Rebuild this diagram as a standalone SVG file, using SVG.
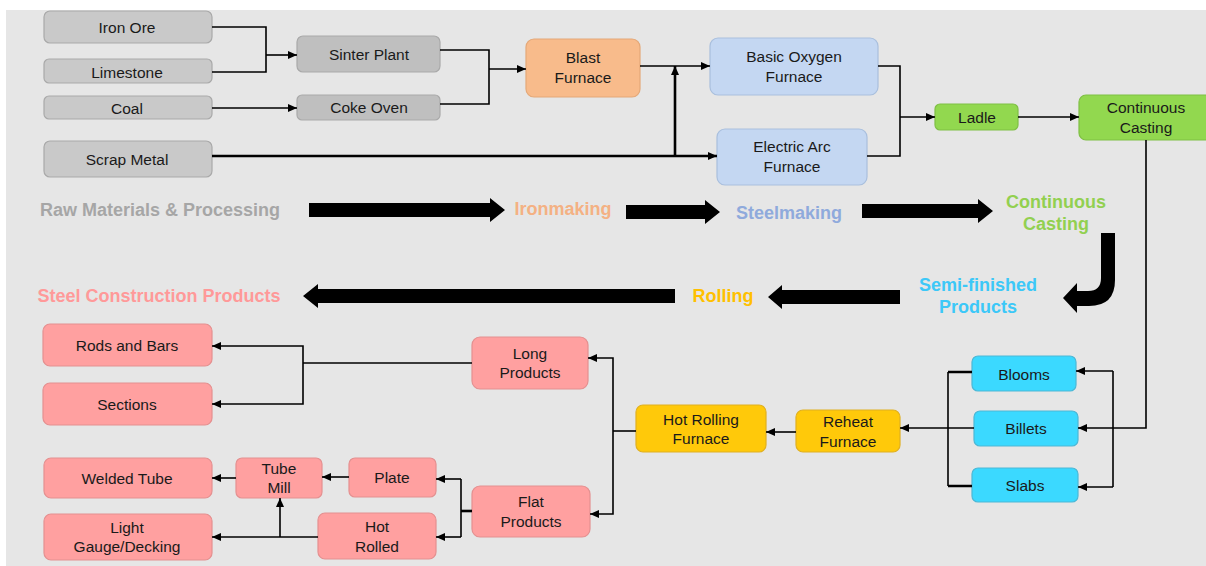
<svg xmlns="http://www.w3.org/2000/svg" width="1206" height="566" viewBox="0 0 1206 566">
<defs>
<marker id="ah" markerUnits="userSpaceOnUse" markerWidth="9" markerHeight="8" refX="9" refY="4" orient="auto"><path d="M0,0 L9,4 L0,8 z" fill="#000"/></marker>
<style>
.n{stroke-width:1.2;}
.g{fill:#c9c9c9;stroke:#a9a9a9;}
.g2{fill:#bfbfbf;stroke:#a9a9a9;}
.o{fill:#f8bb8b;stroke:#e4a878;}
.b{fill:#c4d7f2;stroke:#a9bfdd;}
.gr{fill:#92d84f;stroke:#7fbf45;}
.c{fill:#3bd9ff;stroke:#4cb8d6;}
.y{fill:#ffc90a;stroke:#e0b020;}
.p{fill:#ffa0a0;stroke:#e49090;}
text{font-family:"Liberation Sans",Arial,sans-serif;}
.t{font-size:15.5px;fill:#1a1a1a;text-anchor:middle;dominant-baseline:central;}
.L{font-size:18px;font-weight:bold;text-anchor:middle;dominant-baseline:central;}
.cn path{fill:none;stroke:#000;stroke-width:1.6;}
.cn .k{stroke-width:2.6;}
.big{fill:#000;}
</style>
</defs>
<rect x="6" y="10" width="1200" height="556" fill="#e6e6e6"/>

<g id="iron-ore"><rect class="n g" x="44" y="11" width="168" height="32" rx="6"/><text class="t" x="127" y="27">Iron Ore</text></g>
<g id="limestone"><rect class="n g" x="44" y="59" width="168" height="24" rx="5"/><text class="t" x="127" y="72">Limestone</text></g>
<g id="coal"><rect class="n g" x="44" y="96" width="168" height="23" rx="5"/><text class="t" x="127" y="108">Coal</text></g>
<g id="scrap-metal"><rect class="n g" x="44" y="141" width="168" height="36" rx="6"/><text class="t" x="127" y="159">Scrap Metal</text></g>
<g id="sinter-plant"><rect class="n g2" x="297" y="36" width="143" height="36" rx="6"/><text class="t" x="369" y="54">Sinter Plant</text></g>
<g id="coke-oven"><rect class="n g2" x="297" y="95" width="143" height="25" rx="5"/><text class="t" x="369" y="107">Coke Oven</text></g>
<g id="blast-furnace"><rect class="n o" x="526" y="39" width="114" height="58" rx="8"/><text class="t" x="583" y="57">Blast</text><text class="t" x="583" y="77">Furnace</text></g>
<g id="bof"><rect class="n b" x="710" y="38" width="168" height="57" rx="8"/><text class="t" x="794" y="56">Basic Oxygen</text><text class="t" x="794" y="76">Furnace</text></g>
<g id="eaf"><rect class="n b" x="717" y="129" width="150" height="56" rx="8"/><text class="t" x="792" y="146">Electric Arc</text><text class="t" x="792" y="166">Furnace</text></g>
<g id="ladle"><rect class="n gr" x="935" y="104" width="83" height="26" rx="5"/><text class="t" x="977" y="117">Ladle</text></g>
<g id="continuous-casting"><rect class="n gr" x="1079" y="95" width="134" height="45" rx="7"/><text class="t" x="1146" y="107">Continuous</text><text class="t" x="1146" y="127">Casting</text></g>

<g id="blooms"><rect class="n c" x="972" y="356" width="104" height="35" rx="6"/><text class="t" x="1024" y="374">Blooms</text></g>
<g id="billets"><rect class="n c" x="974" y="411" width="104" height="35" rx="6"/><text class="t" x="1026" y="428">Billets</text></g>
<g id="slabs"><rect class="n c" x="972" y="468" width="106" height="34" rx="6"/><text class="t" x="1025" y="485">Slabs</text></g>
<g id="reheat-furnace"><rect class="n y" x="796" y="410" width="104" height="42" rx="7"/><text class="t" x="848" y="421">Reheat</text><text class="t" x="848" y="441">Furnace</text></g>
<g id="hot-rolling-furnace"><rect class="n y" x="636" y="405" width="130" height="47" rx="7"/><text class="t" x="701" y="419">Hot Rolling</text><text class="t" x="701" y="438">Furnace</text></g>
<g id="long-products"><rect class="n p" x="472" y="337" width="116" height="52" rx="8"/><text class="t" x="530" y="353">Long</text><text class="t" x="530" y="372">Products</text></g>
<g id="flat-products"><rect class="n p" x="472" y="486" width="118" height="51" rx="8"/><text class="t" x="531" y="501">Flat</text><text class="t" x="531" y="521">Products</text></g>
<g id="rods-bars"><rect class="n p" x="43" y="324" width="169" height="42" rx="7"/><text class="t" x="127" y="345">Rods and Bars</text></g>
<g id="sections"><rect class="n p" x="43" y="383" width="169" height="42" rx="7"/><text class="t" x="127" y="404">Sections</text></g>
<g id="plate"><rect class="n p" x="349" y="458" width="87" height="39" rx="6"/><text class="t" x="392" y="477">Plate</text></g>
<g id="hot-rolled"><rect class="n p" x="318" y="513" width="118" height="46" rx="7"/><text class="t" x="377" y="526">Hot</text><text class="t" x="377" y="546">Rolled</text></g>
<g id="tube-mill"><rect class="n p" x="236" y="458" width="86" height="40" rx="6"/><text class="t" x="279" y="468">Tube</text><text class="t" x="279" y="487">Mill</text></g>
<g id="welded-tube"><rect class="n p" x="44" y="458" width="168" height="40" rx="7"/><text class="t" x="127" y="478">Welded Tube</text></g>
<g id="light-gauge"><rect class="n p" x="44" y="514" width="168" height="46" rx="7"/><text class="t" x="127" y="527">Light</text><text class="t" x="127" y="546">Gauge/Decking</text></g>

<g id="stage-labels">
<text class="L" x="160" y="210" fill="#a6a6a6">Raw Materials &amp; Processing</text>
<text class="L" x="563" y="209" fill="#f4b183">Ironmaking</text>
<text class="L" x="789" y="213" fill="#8faadc">Steelmaking</text>
<text class="L" x="1056" y="202" fill="#92d050">Continuous</text>
<text class="L" x="1056" y="224" fill="#92d050">Casting</text>
<text class="L" x="978" y="285" fill="#3cc8f8">Semi-finished</text>
<text class="L" x="978" y="307" fill="#3cc8f8">Products</text>
<text class="L" x="723" y="296" fill="#ffc000">Rolling</text>
<text class="L" x="159" y="296" fill="#ff9999">Steel Construction Products</text>
</g>

<g id="stage-arrows" class="big">
<polygon points="309,203 490,203 490,198 505,210 490,222 490,217 309,217"/>
<polygon points="626,205 705,205 705,200 720,212 705,224 705,219 626,219"/>
<polygon points="862,204 978,204 978,199 993,211 978,223 978,218 862,218"/>
<path d="M1101,233 H1115 V280 Q1115,306 1089,306 H1077 V313 L1063,298 L1077,283 V291 H1088 Q1101,291 1101,278 Z"/>
<polygon points="900,290 782,290 782,285 768,297 782,309 782,304 900,304"/>
<polygon points="675,289 318,289 318,284 303,296 318,308 318,303 675,303"/>
</g>

<g id="connectors" class="cn">
<path d="M212,27 H266 V72 H212"/>
<path d="M266,55 H297" marker-end="url(#ah)"/>
<path d="M212,108 H297" marker-end="url(#ah)"/>
<path d="M440,50 H489 V104 H440"/>
<path d="M489,69 H526" marker-end="url(#ah)"/>
<path d="M640,66 H710" marker-end="url(#ah)"/>
<path class="k" d="M212,156 H717" marker-end="url(#ah)"/>
<path class="k" d="M675,156 V66" marker-end="url(#ah)"/>
<path d="M878,66 H900 V156 H867"/>
<path d="M900,117 H935" marker-end="url(#ah)"/>
<path d="M1018,117 H1079" marker-end="url(#ah)"/>
<path d="M1146,140 V428 H1078" marker-end="url(#ah)"/>
<path d="M1113,371 V487"/>
<path d="M1113,371 H1076" marker-end="url(#ah)"/>
<path d="M1113,487 H1078" marker-end="url(#ah)"/>
<path d="M948,372 V486"/>
<path class="k" d="M972,372 H948 M948,486 H972"/>
<path d="M974,428 H900" marker-end="url(#ah)"/>
<path d="M796,432 H766" marker-end="url(#ah)"/>
<path d="M636,431 H613"/>
<path d="M613,431 V358 H588" marker-end="url(#ah)"/>
<path d="M613,431 V514 H590" marker-end="url(#ah)"/>
<path d="M472,363 H303"/>
<path d="M303,363 V346 H212" marker-end="url(#ah)"/>
<path d="M303,363 V404 H212" marker-end="url(#ah)"/>
<path class="k" d="M472,511 H461"/>
<path d="M461,479 V537"/>
<path d="M461,479 H436" marker-end="url(#ah)"/>
<path d="M461,537 H436" marker-end="url(#ah)"/>
<path d="M349,477 H322" marker-end="url(#ah)"/>
<path d="M236,478 H212" marker-end="url(#ah)"/>
<path d="M318,537 H212" marker-end="url(#ah)"/>
<path d="M280,537 V498" marker-end="url(#ah)"/>
</g>
</svg>
